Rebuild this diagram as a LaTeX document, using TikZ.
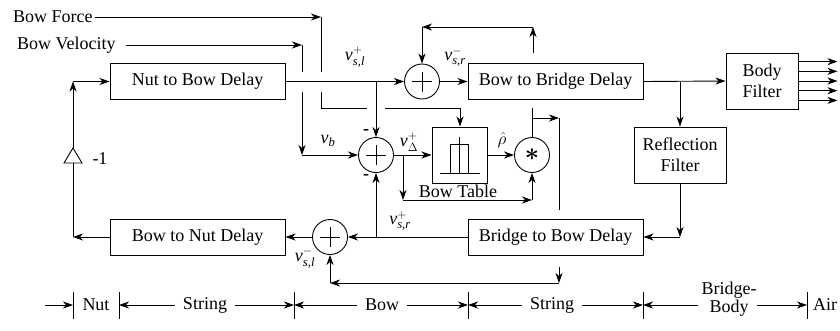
\documentclass[tikz,border=0pt]{standalone}
\usepackage{amsmath}
\usepackage{fontspec}
\setmainfont{Liberation Serif}
\usetikzlibrary{arrows.meta,calc}
\begin{document}
\begin{tikzpicture}[x=1pt,y=-1pt,
  every node/.style={font=\fontsize{18}{21}\selectfont, inner sep=0pt},
  wire/.style={line width=0.9pt},
  arr/.style={wire, -{Stealth[length=10pt,width=7pt,inset=3pt]}},
  blk/.style={draw, line width=1pt, align=center},
  dly/.style={blk, minimum width=175pt, minimum height=36pt},
  sumnode/.style={circle, draw, line width=0.9pt, minimum size=35pt, inner sep=0pt,
    path picture={\draw[line width=0.9pt]
      ([xshift=-10pt]path picture bounding box.center) -- ([xshift=10pt]path picture bounding box.center)
      ([yshift=-10pt]path picture bounding box.center) -- ([yshift=10pt]path picture bounding box.center);}},
  tick/.style={wire},
  sig/.style={font=\fontsize{18}{21}\selectfont},
]
\useasboundingbox (0,0) rectangle (840,330);

% blocks
\node[dly] (nb) at (197.5,81.5) {Nut to Bow Delay};
\node[dly] (bb) at (555.5,81.5) {Bow to Bridge Delay};
\node[dly] (bn) at (197.5,237) {Bow to Nut Delay};
\node[dly] (brb) at (555.5,237) {Bridge to Bow Delay};
\node[blk, minimum width=72pt, minimum height=56pt] (bf) at (762,81) {Body\\Filter};
\node[blk, minimum width=92pt, minimum height=56pt] (rf) at (680,155) {Reflection\\Filter};
\node[blk, minimum width=55pt, minimum height=56pt] (bt) at (459.5,155) {};
\node[sumnode] (s1) at (422,81.5) {};
\node[sumnode] (s2) at (376,155) {};
\node[sumnode] (s3) at (330,237) {};
\node[circle, draw, line width=0.9pt, minimum size=35pt, font={\fontsize{32}{32}\selectfont\boldmath}] (mul) at (532,155) {$\ast$};

% bow table curve
\draw[wire] (440,173) -- (480,173);
\draw[wire] (450,173) -- (450,144) -- (468,144) -- (468,173);
\draw[wire] (459,137) -- (459,173);
\node at (458,191) {Bow Table};

% Bow Force
\node[anchor=west] (bfo) at (13,17) {Bow Force};
\coordinate (f1) at (321,17); \coordinate (f2) at (321,108); \coordinate (f3) at (460,108);
\draw[arr] ([xshift=2pt]bfo.east) -- (f1);
\draw[wire] (f1) -- (321,72);
\draw[wire] (321,92) -- (f2) -- (367,108);
\draw[wire] (385,108) -- (f3);
\draw[arr] (f3) -- (bt.north -| f3);

% Bow Velocity
\node[anchor=west] (bv) at (17,45) {Bow Velocity};
\coordinate (v1) at (302,45); \coordinate (v2) at (302,155);
\draw[arr] ([xshift=10pt]bv.east) -- (v1);
\draw[wire] (v1) -- (302,72);
\draw[arr] (302,92) -- (v2);
\draw[arr] (v2) -- (s2.west);

% left loop with gain -1
\coordinate (l1) at (73,237); \coordinate (ga) at (73,148); \coordinate (gb) at (73,163); \coordinate (l2) at (73,81.5);
\draw[arr] (bn.west) -- (l1);
\draw[wire] (l1) -- (gb);
\draw[wire] (64,163) -- (82,163) -- (ga) -- cycle;
\draw[arr] (ga) -- (l2);
\draw[arr] (l2) -- (nb.west);
\node at (100,159) {-1};

% top line
\coordinate (j1) at (376,81.5);
\draw[arr] (nb.east) -- (s1.west);
\draw[arr] (j1) -- (s2.north);
\draw[arr] (s1.east) -- (bb.west);
\coordinate (t0) at (533,53); \coordinate (t1) at (533,27); \coordinate (t2) at (422,27);
\draw[arr] (t0) -- (t1);
\draw[arr] (t1) -- (t2);
\draw[arr] (t2) -- (s1.north);

% right side
\coordinate (j2) at (680,81.5);
\draw[arr] (bb.east) -- (bf.west);
\draw[arr] (j2) -- (rf.north);
\foreach \f in {0.16,0.33,0.5,0.67,0.84}
  \draw[arr] ($(bf.north east)!\f!(bf.south east)$) -- ++(39,0);
\coordinate (r1) at (680,237);
\draw[arr] (rf.south) -- (r1);
\draw[arr] (r1) -- (brb.east);

% bottom line
\coordinate (j3) at (376,237);
\draw[arr] (brb.west) -- (s3.east);
\draw[arr] (j3) -- (s2.south);
\draw[arr] (s3.west) -- (bn.east);
\coordinate (b0) at (559,267); \coordinate (b1) at (559,283); \coordinate (b2) at (330,283);
\draw[arr] (b0) -- (b1);
\draw[arr] (b1) -- (b2);
\draw[arr] (b2) -- (s3.south);

% middle
\coordinate (j4) at (403,155); \coordinate (m1) at (403,200); \coordinate (m2) at (532,200);
\draw[arr] (s2.east) -- (bt.west);
\draw[arr] (j4) -- (m1);
\draw[arr] (m1) -- (m2);
\draw[arr] (m2) -- (mul.south);
\draw[arr] (bt.east) -- (mul.west);
\coordinate (u1) at (532,108); \coordinate (u2) at (532,118); \coordinate (u3) at (559,118); \coordinate (u4) at (559,210);
\draw[wire] (mul.north) -- (u1);
\draw[arr] (u2) -- (u3);
\draw[wire] (u3) -- (u4);

% signal labels
\node at (355,57) {$\textit{v}^{+}_{\textit{s,l}}$};
\node at (455,57) {$\textit{v}^{-}_{\textit{s,r}}$};
\node at (328,141) {$\textit{v}_{\textit{b}}$};
\node at (409,142) {$\textit{v}^{+}_{\Delta}$};
\node at (502,140) {$\hat{\rho}$};
\node at (400,221) {$\textit{v}^{+}_{\textit{s,r}}$};
\node at (305,258) {$\textit{v}^{-}_{\textit{s,l}}$};
\node at (366,132) {\textbf{-}};
\node at (366,177) {\textbf{-}};

% bottom dimension row
\foreach \n/\x in {k1/73,k2/119,k3/294,k4/468,k5/643,k6/807} {
  \coordinate (\n) at (\x,305);
  \draw[tick] ([yshift=13pt]\n) -- ([yshift=-14pt]\n);
}
\coordinate (k0) at (45,305);
\draw[arr] (k0) -- (k1);
\node at (96,305) {Nut};
\node (st1) at (205,305) {String};
\draw[arr] ([xshift=-8pt]st1.west) -- (k2);
\draw[arr] ([xshift=8pt]st1.east) -- (k3);
\node (bw) at (382,305) {Bow};
\draw[arr] ([xshift=-8pt]bw.west) -- (k3);
\draw[arr] ([xshift=8pt]bw.east) -- (k4);
\node (st2) at (552,305) {String};
\draw[arr] ([xshift=-8pt]st2.west) -- (k4);
\draw[arr] ([xshift=8pt]st2.east) -- (k5);
\node[align=center, font=\fontsize{18}{18}\selectfont] (bbd) at (729,299) {Bridge-\\Body};
\draw[arr] ([xshift=-3pt]bbd.west |- k5) -- (k5);
\draw[arr] (bbd.east |- k6) -- (k6);
\node[anchor=west] at (813,305) {Air};
\end{tikzpicture}
\end{document}
